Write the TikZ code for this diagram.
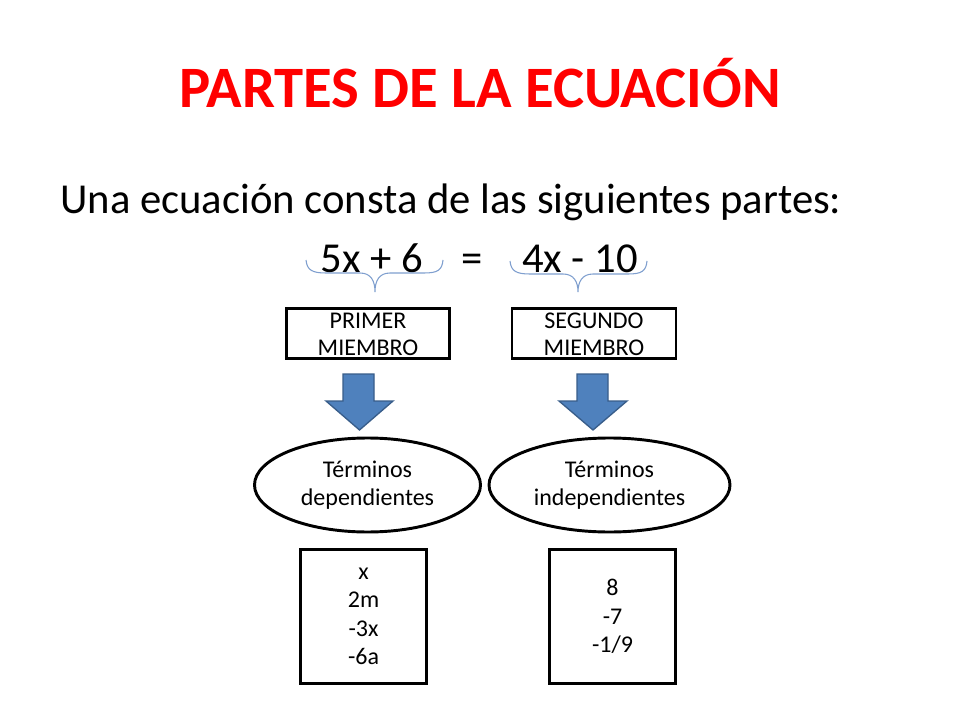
\documentclass[tikz,border=0pt]{standalone}
\usepackage{fontspec}
\setmainfont{Carlito}
\usetikzlibrary{shapes.geometric}
\definecolor{titlered}{HTML}{FF0000}
\definecolor{arrowfill}{HTML}{4F81BD}
\definecolor{arrowline}{HTML}{385D8A}
\definecolor{bracecol}{HTML}{7F9FCF}
\begin{document}
\begin{tikzpicture}[x=0.75pt,y=-0.75pt,
  txt/.style={font=\fontsize{18}{21.4}\selectfont, align=center, inner sep=0pt},
  box/.style={txt, draw=black, line width=2.2pt},
  oval/.style={txt, ellipse, draw=black, line width=2.2pt},
  eqtxt/.style={anchor=base, font=\fontsize{32}{38}\selectfont, inner sep=0pt},
  brc/.style={draw=bracecol, line width=0.8pt},
  barrow/.style={fill=arrowfill, draw=arrowline, line width=1pt, line join=miter}]
\useasboundingbox (0,0) rectangle (960,720);
\fill[white] (0,0) rectangle (960,720);

% title and subtitle
\node[anchor=base, text=titlered, font=\fontsize{44}{50}\selectfont\bfseries, inner sep=0pt] (title) at (480,107.5) {PARTES DE LA ECUACIÓN};
\node[anchor=base west, font=\fontsize{32}{38}\selectfont, inner sep=0pt] (sub) at (60,214) {Una ecuación consta de las siguientes partes:};

% equation
\node[eqtxt] (lhs) at (371.7,272.5) {5x + 6};
\node[eqtxt] (eq) at (472.5,272.5) {=};
\node[eqtxt] (rhs) at (580,272.5) {4x - 10};

% braces
\draw[brc] (306,260) .. controls (307,270) and (312,273) .. (326,273) -- (360,273)
  .. controls (371,273) and (375,281) .. (375,292)
  .. controls (375,281) and (379,273) .. (390,273) -- (424,273)
  .. controls (438,273) and (442,270) .. (443,260);
\draw[brc] (510,261) .. controls (511,271) and (516,274) .. (530,274) -- (563,274)
  .. controls (574,274) and (578,282) .. (578,292)
  .. controls (578,282) and (582,274) .. (593,274) -- (628,274)
  .. controls (642,274) and (646,271) .. (647,261);

% member boxes
\node[box, minimum width=122.25pt, minimum height=37.5pt, font=\fontsize{18}{20.8}\selectfont] (prim) at (368,333.5) {\rule{0pt}{13pt}PRIMER\\MIEMBRO};
\node[box, minimum width=123pt, minimum height=37.5pt, font=\fontsize{18}{20.8}\selectfont] (seg) at (594,333.5) {\rule{0pt}{13pt}SEGUNDO\\MIEMBRO};

% block arrows
\draw[barrow] (343,374) -- (374,374) -- (374,401) -- (393,401) -- (359.5,430) -- (326,401) -- (343,401) -- cycle;
\draw[barrow] (577,374) -- (608,374) -- (608,401) -- (627,401) -- (593,430) -- (559,401) -- (577,401) -- cycle;

% ellipses
\node[oval, minimum width=169.5pt, minimum height=70.5pt] (dep) at (367.5,485) {Términos\\dependientes};
\node[oval, minimum width=180.75pt, minimum height=70.5pt] (indep) at (609.5,485) {Términos\\independientes};

% term boxes
\node[box, minimum width=94.5pt, minimum height=100.5pt] (tdep) at (363.5,616.5) {x\\2m\\-3x\\-6a};
\node[box, minimum width=94.5pt, minimum height=100.5pt] (tind) at (612.5,616.5) {8\\-7\\-1/9};
\end{tikzpicture}
\end{document}
